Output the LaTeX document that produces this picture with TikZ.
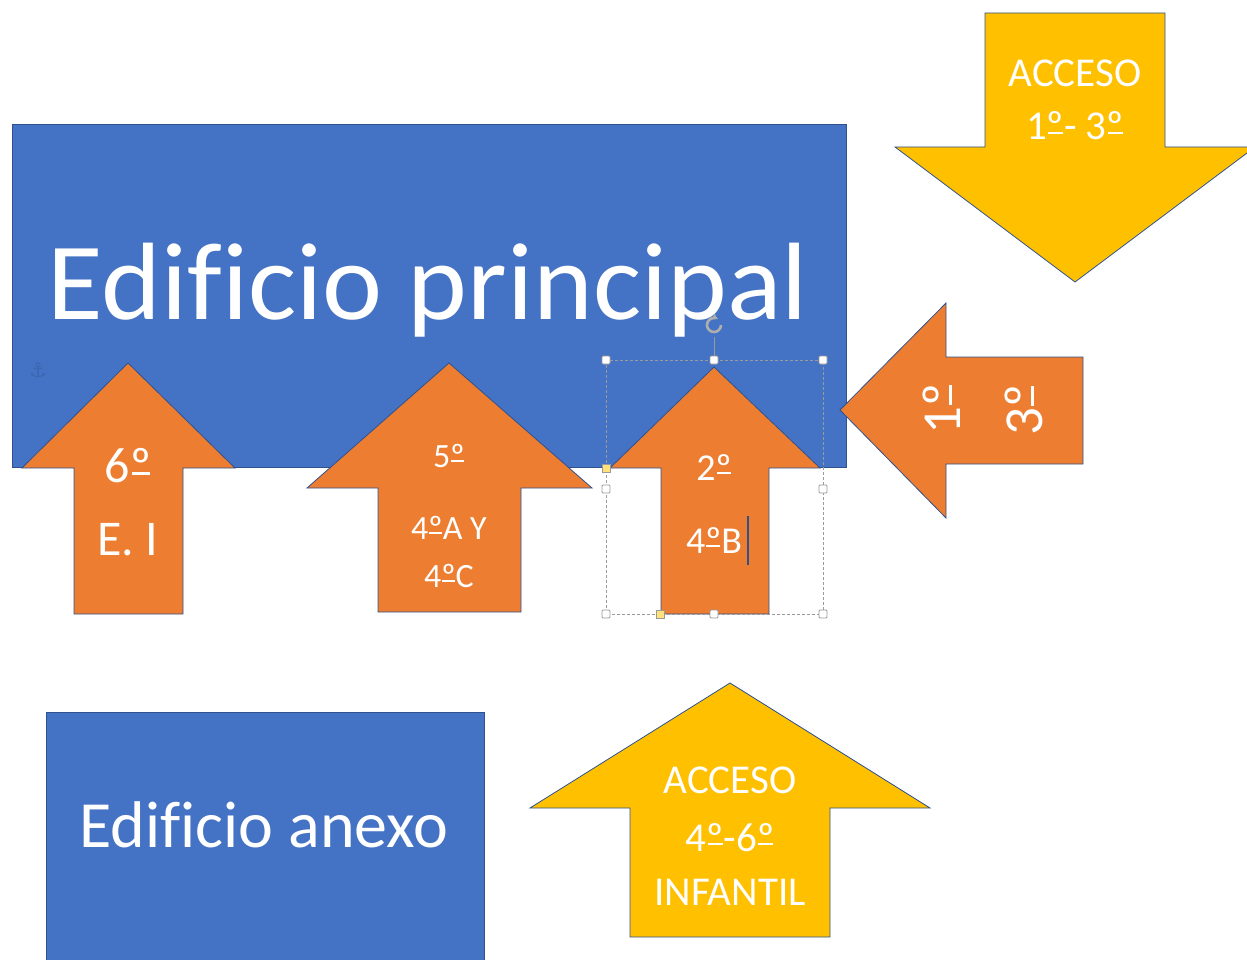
\documentclass[tikz,border=0pt]{standalone}
\usepackage{fontspec}
\usetikzlibrary{arrows.meta}
\setmainfont{Carlito}[Ligatures=NoCommon]
\newfontfamily\symfont{DejaVu Sans}
\definecolor{blu}{HTML}{4472C4}
\definecolor{org}{HTML}{ED7D31}
\definecolor{yel}{HTML}{FFC000}
\definecolor{edgec}{HTML}{2F528F}
\definecolor{handlec}{HTML}{9A9A9A}
\definecolor{handley}{HTML}{FFE27A}
\tikzset{
  shp/.style={draw=edgec, line width=0.8pt, line join=miter},
  lbl/.style={text=white, anchor=base, inner sep=0pt},
  hnd/.style={draw=handlec, fill=white, line width=0.8pt, minimum size=8pt, inner sep=0pt, rounded corners=1pt},
  hndy/.style={draw=handlec, fill=handley, line width=0.8pt, minimum size=8pt, inner sep=0pt},
}
\newcommand{\fs}[1]{\fontsize{#1}{#1}\selectfont}
\newcommand{\ord}{\leavevmode\setbox0\hbox{º}\rlap{\kern0.03em\rule[0.15em]{\dimexpr\wd0-0.06em\relax}{0.055em}}\box0}
\begin{document}
\begin{tikzpicture}[x=1pt,y=-1pt]
\useasboundingbox (0,0) rectangle (1247,960);
% blue buildings
\fill[blu, shp] (12,124) rectangle (846,467);
\fill[blu, shp] (46,712) rectangle (484,975);
\node[lbl, xscale=1.034, transform shape] (principal) at (428,319) {\fs{110}Edificio principal};
\node[lbl] (anexo) at (264,847) {\fs{66}Edificio anexo};
% anchor icon
\node[text=blu!80!black, opacity=0.5, inner sep=0pt] (anchor) at (38,370) {\symfont\fs{20}⚓};
% yellow arrows
\fill[yel, shp] (985,13) -- (1165,13) -- (1165,147) -- (1255,147) -- (1075,282) -- (895,147) -- (985,147) -- cycle;
\fill[yel, shp] (730,683) -- (930,808) -- (830,808) -- (830,937) -- (630,937) -- (630,808) -- (530,808) -- cycle;
% orange arrows
\fill[org, shp] (128,363) -- (235,468) -- (183,468) -- (183,614) -- (74,614) -- (74,468) -- (22,468) -- cycle;
\fill[org, shp] (449,363) -- (592,488) -- (521,488) -- (521,612) -- (378,612) -- (378,488) -- (307,488) -- cycle;
\fill[org, shp] (714,367) -- (820,468) -- (769,468) -- (769,614) -- (661,614) -- (661,468) -- (610,468) -- cycle;
\fill[org, shp] (840,410) -- (946,303) -- (946,357) -- (1083,357) -- (1083,464) -- (946,464) -- (946,518) -- cycle;
% labels
\node[lbl] (acc1a) at (1075,87) {\fs{41}ACCESO};
\node[lbl] (acc1b) at (1075,140) {\fs{41}1\ord- 3\ord};
\node[lbl] (acc2a) at (730,793) {\fs{41}ACCESO};
\node[lbl] (acc2b) at (730,851) {\fs{41}4\ord-6\ord};
\node[lbl] (acc2c) at (730,905) {\fs{41}INFANTIL};
\node[lbl] (six) at (128,482) {\fs{50}6\ord};
\node[lbl] (ei) at (128,555) {\fs{50}E. I};
\node[lbl] (five) at (449,467) {\fs{34}5\ord};
\node[lbl] (fourac) at (449,539) {\fs{34}4\ord A Y};
\node[lbl] (fourc) at (449,587) {\fs{34}4\ord C};
\node[lbl] (two) at (714,480) {\fs{38}2\ord};
\node[lbl] (fourb) at (714,553) {\fs{38}4\ord B};
\node[lbl, rotate=90] (one) at (960,409) {\fs{55}1\ord};
\node[lbl, rotate=90] (three) at (1042,410) {\fs{55}3\ord};
% text cursor
\draw[blu!70!black, line width=1.2pt] (748,516) -- (748,565);
% selection frame
\draw[handlec, line width=0.7pt, dash pattern=on 3pt off 2pt] (606,360) rectangle (823,614);
\draw[handlec, line width=0.9pt] (714,337) -- (714,360);
\draw[handlec!80, line width=2.6pt, -{Latex[length=5pt,width=7pt]}] (721,325) arc (0:300:7);
\node[hnd] (h1) at (606,360) {};
\node[hnd] (h2) at (714,360) {};
\node[hnd] (h3) at (823,360) {};
\node[hnd] (h4) at (606,489) {};
\node[hnd] (h5) at (823,489) {};
\node[hnd] (h6) at (606,614) {};
\node[hnd] (h7) at (714,614) {};
\node[hnd] (h8) at (823,614) {};
\node[hndy] (y1) at (606,468) {};
\node[hndy] (y2) at (660,614) {};
\end{tikzpicture}
\end{document}
